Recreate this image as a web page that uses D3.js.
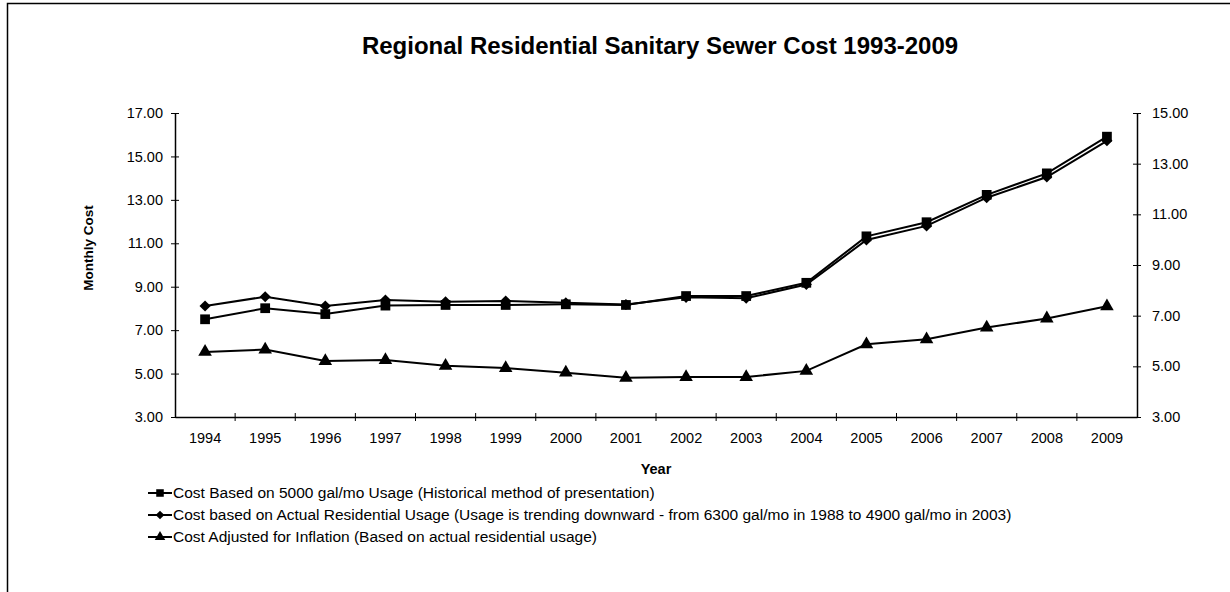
<!DOCTYPE html>
<html>
<head>
<meta charset="utf-8">
<script src="https://cdn.jsdelivr.net/npm/d3@7"></script>
<style>
    body { margin: 0; background: #fff; }
    text { font-family: Arial, "Liberation Sans", sans-serif; fill: #000; }
</style>
</head>
<body>
<div class="figure"></div>
<script>
// data
var years = ["1994", "1995", "1996", "1997", "1998", "1999", "2000", "2001",
             "2002", "2003", "2004", "2005", "2006", "2007", "2008", "2009"]

// left axis
var cost5000 = [7.50, 8.01, 7.74, 8.13, 8.16, 8.16, 8.19, 8.16,
                8.57, 8.57, 9.18, 11.32, 11.97, 13.23, 14.22, 15.91]
var costActual = [8.11, 8.54, 8.11, 8.39, 8.31, 8.34, 8.26, 8.18,
                  8.51, 8.47, 9.10, 11.15, 11.80, 13.10, 14.05, 15.72]
// right axis
var costInflation = [5.57, 5.66, 5.21, 5.25, 5.02, 4.93, 4.75, 4.55,
                     4.58, 4.58, 4.82, 5.87, 6.07, 6.53, 6.89, 7.37]

var leftTicks = [3, 5, 7, 9, 11, 13, 15, 17]
var rightTicks = [3, 5, 7, 9, 11, 13, 15]

var legendLabels = [
    "Cost Based on 5000 gal/mo Usage (Historical method of presentation)",
    "Cost based on Actual Residential Usage (Usage is trending downward - from 6300 gal/mo in 1988 to 4900 gal/mo in 2003)",
    "Cost Adjusted for Inflation (Based on actual residential usage)"
]

var dim = { w: 1230, h: 592 }

var plot = { left: 175, right: 1137, top: 113, bottom: 417 }

var svg = d3.select("div.figure")
    .append("svg")
    .attr("width", dim.w)
    .attr("height", dim.h)

// chart frame (only top and left edges show in the scan)
svg.append("path")
    .attr("d", "M7.5," + dim.h + "V3.5H" + dim.w)
    .attr("fill", "none")
    .attr("stroke", "#000")
    .attr("stroke-width", 1.5)

var xScale = d3.scaleBand()
    .domain(years)
    .range([plot.left, plot.right])

var yLeft = d3.scaleLinear()
    .domain([3, 17])
    .range([plot.bottom, plot.top])

var yRight = d3.scaleLinear()
    .domain([3, 15])
    .range([plot.bottom, plot.top])

var fmt = d3.format(".2f")
var tickFontSize = 14.5

// left axis
var gLeft = svg.append("g")
    .attr("transform", "translate(" + plot.left + ",0)")
    .style("font-size", tickFontSize)
    .call(d3.axisLeft(yLeft).tickValues(leftTicks).tickFormat(fmt)
          .tickSizeInner(4).tickSizeOuter(0).tickPadding(8))
gLeft.selectAll(".tick line").attr("x1", -4).attr("x2", 4)

// right axis
var gRight = svg.append("g")
    .attr("transform", "translate(" + plot.right + ",0)")
    .style("font-size", tickFontSize)
    .call(d3.axisRight(yRight).tickValues(rightTicks).tickFormat(fmt)
          .tickSizeInner(4).tickSizeOuter(0).tickPadding(11))
gRight.selectAll(".tick line").attr("x1", -4).attr("x2", 4)

// x axis, labels centred in the categories, ticks between them
var gX = svg.append("g")
    .attr("transform", "translate(0," + plot.bottom + ")")
    .style("font-size", tickFontSize)
    .call(d3.axisBottom(xScale).tickSize(0).tickSizeOuter(0).tickPadding(16))

svg.append("g")
    .selectAll("line")
    .data(years.slice(1))
    .enter()
    .append("line")
    .attr("x1", function(d) { return xScale(d) })
    .attr("x2", function(d) { return xScale(d) })
    .attr("y1", plot.bottom - 4)
    .attr("y2", plot.bottom + 4)
    .attr("stroke", "#000")

svg.selectAll(".domain").attr("stroke", "#000").attr("stroke-width", 1.5)

// titles
svg.append("text")
    .attr("x", 660)
    .attr("y", 54)
    .attr("text-anchor", "middle")
    .style("font-size", 24)
    .style("font-weight", "bold")
    .text("Regional Residential Sanitary Sewer Cost 1993-2009")

svg.append("text")
    .attr("transform", "translate(93,248) rotate(-90)")
    .attr("text-anchor", "middle")
    .style("font-size", 13.5)
    .style("font-weight", "bold")
    .text("Monthly Cost")

svg.append("text")
    .attr("x", (plot.left + plot.right) / 2)
    .attr("y", 474)
    .attr("text-anchor", "middle")
    .style("font-size", 14.5)
    .style("font-weight", "bold")
    .text("Year")

// series
var series = [
    { values: cost5000, y: yLeft, symbol: d3.symbolSquare, size: 95, rotate: 0 },
    { values: costActual, y: yLeft, symbol: d3.symbolSquare, size: 62, rotate: 45 },
    { values: costInflation, y: yRight, symbol: d3.symbolTriangle, size: 80, rotate: 0 }
]

series.forEach(function(s) {
    var line = d3.line()
        .x(function(d, i) { return xScale(years[i]) + xScale.bandwidth() / 2 })
        .y(function(d) { return s.y(d) })

    svg.append("path")
        .datum(s.values)
        .attr("d", line)
        .attr("fill", "none")
        .attr("stroke", "#000")
        .attr("stroke-width", 2)

    svg.append("g")
        .selectAll("path")
        .data(s.values)
        .enter()
        .append("path")
        .attr("d", d3.symbol().type(s.symbol).size(s.size))
        .attr("transform", function(d, i) {
            return "translate(" + (xScale(years[i]) + xScale.bandwidth() / 2) + "," +
                   s.y(d) + ") rotate(" + s.rotate + ")"
        })
        .attr("fill", "#000")
})

// legend
var legendConfig = { x: 148, y: 493, step: 22, lineLen: 24, fontSize: 15.5 }

var legend = svg.append("g")
    .selectAll("g")
    .data(series)
    .enter()
    .append("g")
    .attr("transform", function(d, i) {
        return "translate(" + legendConfig.x + "," + (legendConfig.y + i * legendConfig.step) + ")"
    })

legend.append("line")
    .attr("x1", 0).attr("x2", legendConfig.lineLen)
    .attr("stroke", "#000")
    .attr("stroke-width", 2)

legend.append("path")
    .attr("d", function(d) { return d3.symbol().type(d.symbol).size(d.size * 0.6)() })
    .attr("transform", function(d) {
        return "translate(" + legendConfig.lineLen / 2 + ",0) rotate(" + d.rotate + ")"
    })

legend.append("text")
    .attr("x", legendConfig.lineLen + 1)
    .attr("dy", "0.35em")
    .style("font-size", legendConfig.fontSize)
    .text(function(d, i) { return legendLabels[i] })
</script>
</body>
</html>
